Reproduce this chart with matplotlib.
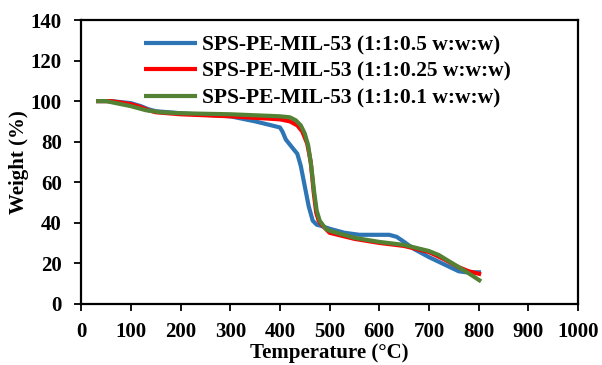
import matplotlib.pyplot as plt
import numpy as np

# TGA curves
blue_t = [30, 60, 100, 120, 135, 150, 200, 300, 350, 400, 405, 412, 425, 435, 442, 450, 458, 466, 474, 482, 500, 530, 560, 600, 620, 635, 650, 670, 700, 730, 760, 775, 790, 805]
blue_w = [100, 100, 99, 97.5, 96, 95, 94, 92.5, 90, 87, 85, 81, 77, 74, 68, 58, 48, 41, 39, 38.5, 37, 35, 34, 34, 34, 33, 30.5, 27, 23, 19.5, 16, 15.5, 15.5, 15.5]

red_t = [30, 60, 100, 120, 135, 150, 200, 300, 400, 420, 435, 445, 455, 462, 468, 473, 478, 484, 492, 500, 550, 600, 650, 700, 730, 760, 780, 805]
red_w = [100, 100, 98.5, 97, 95.5, 94.5, 93.5, 92.5, 91, 90, 88, 85, 79, 70, 55, 45, 41, 39, 37, 35, 32, 30, 28.5, 25.5, 22, 18, 16, 14.5]

green_t = [30, 50, 100, 130, 160, 200, 300, 400, 420, 432, 442, 450, 457, 463, 469, 474, 480, 486, 492, 500, 550, 600, 650, 700, 720, 740, 760, 780, 805]
green_w = [100, 100, 97.5, 95.5, 94.5, 94, 93.5, 92.5, 92, 90.5, 88, 84, 78, 68, 55, 46, 41, 39, 37, 36, 32.5, 30.5, 29, 26, 24, 21, 18, 15, 11]

labels = ["SPS-PE-MIL-53 (1:1:0.5 w:w:w)",
          "SPS-PE-MIL-53 (1:1:0.25 w:w:w)",
          "SPS-PE-MIL-53 (1:1:0.1 w:w:w)"]
colors = ["#2e75b6", "#ff0000", "#548235"]

plt.rcParams['font.family'] = ['Liberation Serif', 'DejaVu Serif']
plt.rcParams['font.weight'] = 'bold'

fig = plt.figure(figsize=(6.02, 3.65), dpi=100)
ax = fig.add_axes([0.135, 0.168, 0.825, 0.777])

for t, w, c, lab in zip([blue_t, red_t, green_t], [blue_w, red_w, green_w], colors, labels):
    ax.plot(t, w, color=c, lw=3, label=lab, solid_capstyle='butt', solid_joinstyle='round')

ax.set_xlim(0, 1000)
ax.set_ylim(0, 140)
ax.set_xticks(np.arange(0, 1001, 100))
ax.set_yticks(np.arange(0, 141, 20))
ax.tick_params(labelsize=15, width=1.3, length=5, direction='out')
ax.tick_params(axis='x', pad=8)
ax.tick_params(axis='y', pad=9)
for lbl in ax.get_xticklabels() + ax.get_yticklabels():
    lbl.set_fontweight('bold')
for s in ax.spines.values():
    s.set_linewidth(1.6)

ax.set_xlabel("Temperature (°C)", fontsize=15, fontweight='bold', labelpad=1)
ax.set_ylabel("Weight (%)", fontsize=15, fontweight='bold', labelpad=1)

ax.legend(loc='upper left', bbox_to_anchor=(0.095, 1.0), frameon=False,
          prop={'size': 15.5, 'weight': 'bold'}, handlelength=2.5,
          handletextpad=0.2, labelspacing=0.3, borderaxespad=0.3)

fig.savefig("out.png", dpi=100)
